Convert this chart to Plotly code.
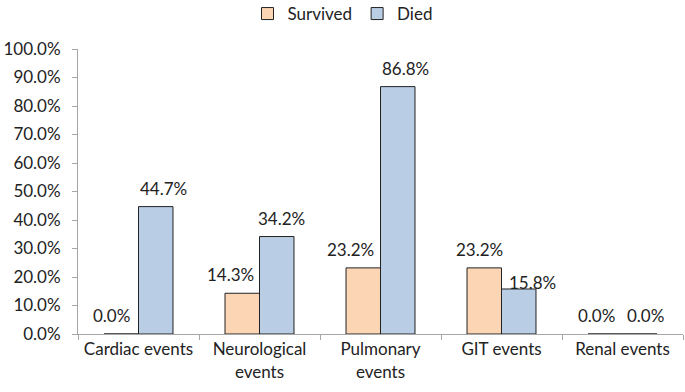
import plotly.graph_objects as go

categories = ["Cardiac events", "Neurological<br>events", "Pulmonary<br>events", "GIT events", "Renal events"]
survived = [0.0, 14.3, 23.2, 23.2, 0.0]
died = [44.7, 34.2, 86.8, 15.8, 0.0]
yticks = [0, 10, 20, 30, 40, 50, 60, 70, 80, 90, 100]

# label placement nudges (pixels), styling only
survived_nudge = [(-10, 0), (-12, 0), (-13, 0), (-5, 0), (-9, 0)]
died_nudge = [(8, 0), (5, 0), (8, 0), (14, -12), (6, 0)]

font = "Lato"
fs = 17
bargap = 0.43
fig = go.Figure()
fig.add_trace(go.Bar(
    name="Survived", x=categories, y=survived,
    marker=dict(color="#FCD5B5", line=dict(color="#222222", width=1)),
))
fig.add_trace(go.Bar(
    name="Died", x=categories, y=died,
    marker=dict(color="#B9CDE5", line=dict(color="#222222", width=1)),
))

W, H = 685, 392
ml, mr, mt, mb = 78, 2, 49, 58
cat_px = (W - ml - mr) / len(categories)
bar_px = cat_px * (1 - bargap) / 2

for vals, nudges, side in [(survived, survived_nudge, -1), (died, died_nudge, 1)]:
    for c, v, (dx, dy) in zip(categories, vals, nudges):
        fig.add_annotation(
            x=c, y=v, text=f"{v:.1f}%", showarrow=False,
            xanchor="center", yanchor="bottom",
            xshift=side * bar_px / 2 + dx, yshift=6 + dy,
            font=dict(size=fs, family=font, color="#222222"),
        )

fig.update_layout(
    width=W, height=H,
    margin=dict(l=ml, r=mr, t=mt, b=mb, autoexpand=False),
    plot_bgcolor="white", paper_bgcolor="white",
    barmode="group", bargap=bargap, bargroupgap=0,
    font=dict(family=font, size=fs, color="#222222"),
    legend=dict(orientation="h", x=0.5, xanchor="center", xref="container",
                y=1 - 14 / 392, yanchor="middle",
                yref="container", font=dict(size=fs), traceorder="normal"),
    showlegend=True,
)
fig.update_xaxes(
    showline=True, linecolor="#A6A6A6", linewidth=1, automargin=False,
    ticks="outside", tickson="boundaries", ticklen=5, tickcolor="#A6A6A6",
    showgrid=False, tickfont=dict(size=fs, family=font),
)
fig.update_yaxes(
    range=[0, 100], tickvals=yticks, ticktext=[f"{v:.1f}%" for v in yticks],
    showline=True, linecolor="#A6A6A6", linewidth=1, automargin=False,
    ticks="outside", ticklen=5, tickcolor="#A6A6A6", ticklabelstandoff=8,
    showgrid=False, zeroline=False, tickfont=dict(size=fs, family=font),
)
fig.write_html(
    "out.html",
    config={"displayModeBar": False},
    post_script="document.body.style.margin='0';document.body.style.overflow='hidden';",
)
